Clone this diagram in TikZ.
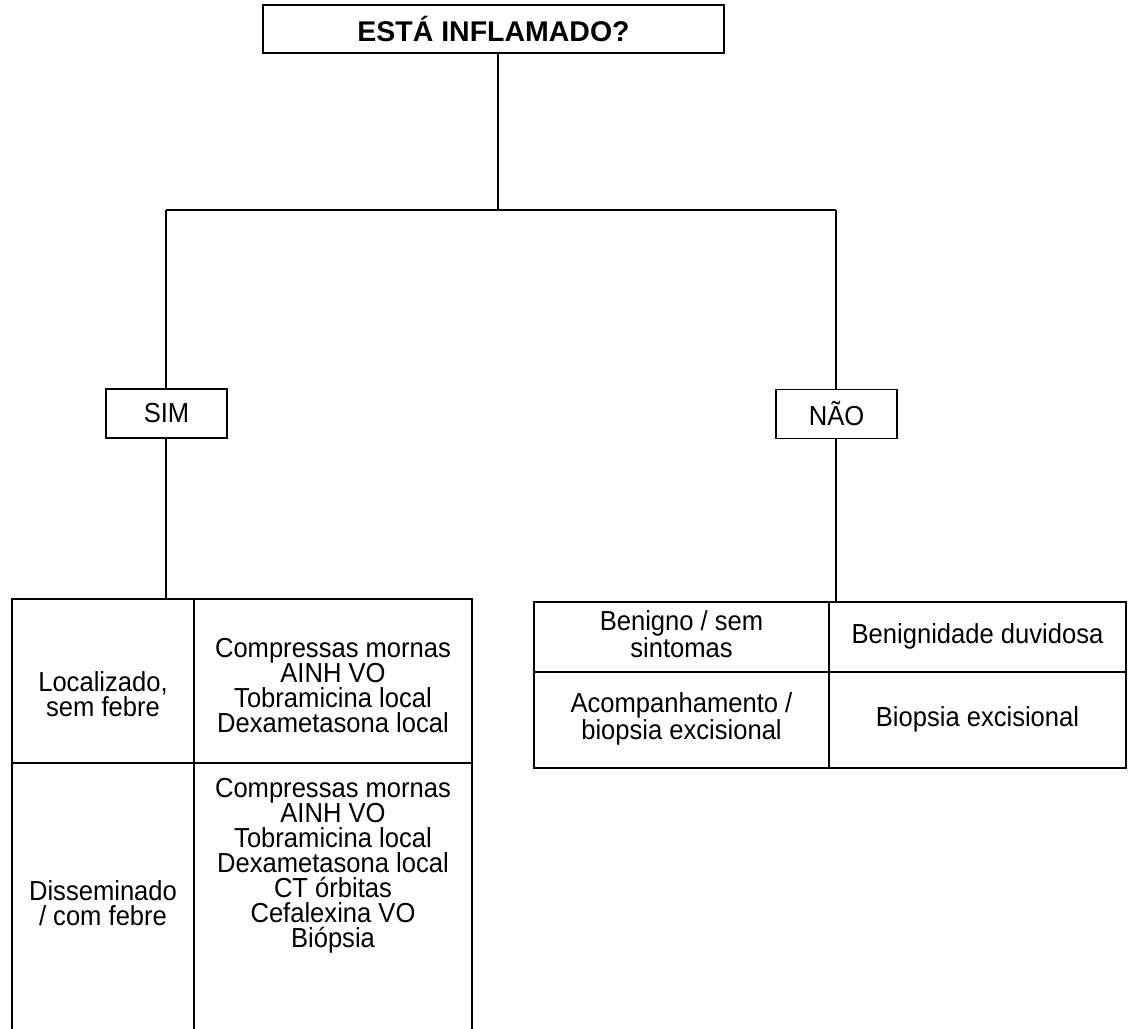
\documentclass[tikz,border=0pt]{standalone}
\usepackage{fontspec}
\setmainfont{Liberation Sans}
\newfontfamily\condfont[FakeStretch=0.93]{Liberation Sans}
\begin{document}
\begin{tikzpicture}[x=1pt,y=-1pt,
  conn/.style={draw=black, line width=1.6pt},
  qbox/.style={draw=black, line width=1.6pt, inner sep=0pt, align=center,
    font=\fontsize{28.5}{28.5}\selectfont\bfseries},
  abox/.style={draw=black, line width=1.6pt, inner sep=0pt, align=center,
    minimum width=121pt, minimum height=49pt,
    font=\condfont\fontsize{27.5}{25}\selectfont},
  cell/.style={draw=black, line width=2pt, inner sep=0pt},
  txt/.style={inner sep=0pt, align=center, font=\condfont\fontsize{27.5}{25}\selectfont}]
\useasboundingbox (0,0) rectangle (1129,1028);
\clip (0,0) rectangle (1129,1028);
\fill[white] (0,0) rectangle (1129,1028);

% question
\node[qbox, minimum width=461pt, minimum height=48pt] (q) at (493.5,29) {ESTÁ INFLAMADO?};

% answers
\node[abox] (sim) at (166.5,413.5) {SIM};
\node[abox] (nao) at (836.5,414) {NÃO};

% left table
\node[cell, minimum width=182pt, minimum height=164pt] (l11) at (103,681) {};
\node[cell, minimum width=278pt, minimum height=164pt] (l12) at (333,681) {};
\node[cell, minimum width=182pt, minimum height=269pt] (l21) at (103,897.5) {};
\node[cell, minimum width=278pt, minimum height=269pt] (l22) at (333,897.5) {};
\node[txt] (t11) at (103,694) {Localizado,\\sem febre};
\node[txt] (t12) at (333,686) {Compressas mornas\\AINH VO\\Tobramicina local\\Dexametasona local};
\node[txt] (t21) at (103,903) {Disseminado\\/ com febre};
\node[txt] (t22) at (333,866) {Compressas mornas\\AINH VO\\Tobramicina local\\Dexametasona local\\CT órbitas\\Cefalexina VO\\Biópsia};

% right table
\node[cell, minimum width=295pt, minimum height=70pt] (r11) at (681.5,637) {};
\node[cell, minimum width=297pt, minimum height=70pt] (r12) at (977.5,637) {};
\node[cell, minimum width=295pt, minimum height=96pt] (r21) at (681.5,720) {};
\node[cell, minimum width=297pt, minimum height=96pt] (r22) at (977.5,720) {};
\node[txt] (s11) at (681.5,634) {Benigno / sem\\sintomas};
\node[txt] (s12) at (977.5,636) {Benignidade duvidosa};
\node[txt] (s21) at (681.5,719) {Acompanhamento /\\biopsia excisional};
\node[txt] (s22) at (977.5,719) {Biopsia excisional};

% connectors
\coordinate (hub) at (498,210);
\coordinate (jl) at (166,210);
\coordinate (jr) at (836,210);
\draw[conn] (q.south -| hub) -- (hub);
\draw[conn] (jl) -- (jr);
\draw[conn] (jl) -- (jl |- sim.north);
\draw[conn] (jr) -- (jr |- nao.north);
\draw[conn] (jl |- sim.south) -- (jl |- l12.north);
\draw[conn] (jr |- nao.south) -- (jr |- r12.north);
\end{tikzpicture}
\end{document}
